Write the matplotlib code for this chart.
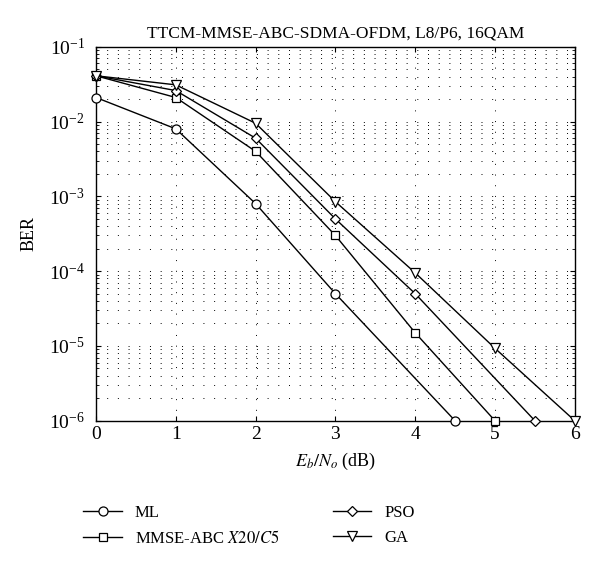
import matplotlib
matplotlib.use("Agg")
import matplotlib.pyplot as plt
import numpy as np

plt.rcParams['font.family'] = ['Liberation Serif', 'DejaVu Serif']
plt.rcParams['mathtext.fontset'] = 'stix'

x_ml = [0, 1, 2, 3, 4.5]
ber_ml = [0.021, 0.008, 8e-4, 5e-5, 1e-6]
x_abc = [0, 1, 2, 3, 4, 5]
ber_abc = [0.041, 0.021, 0.004, 3e-4, 1.5e-5, 1e-6]
x_pso = [0, 1, 2, 3, 4, 5.5]
ber_pso = [0.041, 0.026, 0.006, 5e-4, 5e-5, 1e-6]
x_ga = [0, 1, 2, 3, 4, 5, 6]
ber_ga = [0.041, 0.031, 0.0095, 8.5e-4, 9.5e-5, 9.3e-6, 1e-6]

fig = plt.figure(figsize=(6.0, 5.64), dpi=100)
ax = fig.add_axes([0.16, 0.254, 0.798, 0.663])

mk = dict(color='black', lw=1.0, markerfacecolor='white', markeredgecolor='black',
          markersize=6.5, markeredgewidth=0.9, clip_on=False, zorder=3)
ax.semilogy(x_ml, ber_ml, marker='o', label='ML', **mk)
ax.semilogy(x_abc, ber_abc, marker='s', label=r'MMSE-ABC $X20/C5$', **dict(mk, markersize=5.5))
ax.semilogy(x_pso, ber_pso, marker='D', label='PSO', **dict(mk, markersize=5.5))
ax.semilogy(x_ga, ber_ga, marker='v', label='GA', **mk)

ax.set_xlim(0, 6)
ax.set_ylim(1e-6, 1e-1)
ax.set_xticks(range(7))
ax.grid(True, which='both', axis='y', color='black', linestyle=(0, (1, 10)), lw=0.7)
ax.grid(True, which='major', axis='x', color='black', linestyle=(0, (1, 10)), lw=0.7)
ax.tick_params(which='both', direction='in', top=True, right=True, labelsize=14)
ax.tick_params(axis='y', pad=8)
for s in ax.spines.values():
    s.set_linewidth(1.0)

ax.set_title('TTCM-MMSE-ABC-SDMA-OFDM, L8/P6, 16QAM', fontsize=12.5, pad=7)
ax.set_xlabel(r'$E_b/N_o$ (dB)', fontsize=13, labelpad=6)
ax.set_ylabel('BER', fontsize=13, labelpad=8)

h, l = ax.get_legend_handles_labels()
fig.legend(h, l, loc='upper left', bbox_to_anchor=(0.125, 0.12), ncol=2, frameon=False,
           fontsize=12, handlelength=2.3, handletextpad=0.8, columnspacing=3.2,
           labelspacing=0.55, borderpad=0)

fig.savefig('out.png', dpi=100)
